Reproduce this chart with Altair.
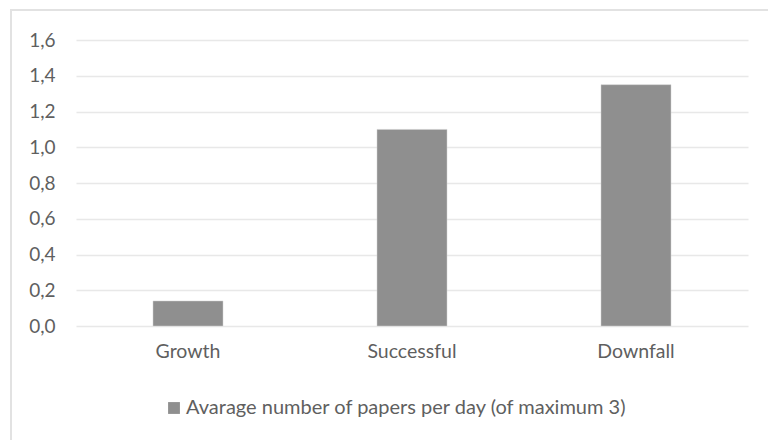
import altair as alt
import pandas as pd

phases = ["Growth", "Successful", "Downfall"]
papers_per_day = [0.14, 1.10, 1.35]
series_name = "Avarage number of papers per day (of maximum 3)"

df = pd.DataFrame({"phase": phases, "value": papers_per_day, "series": [series_name] * 3})

FONT = "Lato"
TEXT = "#5f5f5f"

bars = alt.Chart(df).mark_bar(color="#8f8f8f", stroke="#d0d0d0", strokeWidth=0.5).encode(
    x=alt.X(
        "phase:N",
        sort=phases,
        title=None,
        scale=alt.Scale(paddingInner=0.6875, paddingOuter=0.34375),
        axis=alt.Axis(
            labelAngle=0, domain=False, ticks=False, labelPadding=16,
            labelFont=FONT, labelFontSize=19.5, labelColor=TEXT,
        ),
    ),
    y=alt.Y(
        "value:Q",
        title=None,
        scale=alt.Scale(domain=[0, 1.6]),
        axis=alt.Axis(
            values=[0, 0.2, 0.4, 0.6, 0.8, 1.0, 1.2, 1.4, 1.6],
            labelExpr="replace(format(datum.value, '.1f'), '.', ',')",
            domain=False, ticks=False, labelPadding=21,
            grid=True, gridColor="#e8e8e8", gridWidth=1.5,
            labelFont=FONT, labelFontSize=19, labelColor=TEXT,
        ),
    ),
    color=alt.Color(
        "series:N",
        scale=alt.Scale(range=["#8f8f8f"]),
        legend=alt.Legend(
            title=None, orient="none", legendX=88, legendY=358,
            symbolType="square", symbolSize=140, symbolStrokeWidth=0,
            labelFont=FONT, labelFontSize=20, labelColor=TEXT, labelOffset=2,
            labelLimit=0,
        ),
    ),
)

# light frame around the whole chart
frame = alt.Chart(df).mark_rect(filled=False, stroke="#e2e2e2", strokeWidth=2).encode(
    x=alt.value(-65), x2=alt.value(760), y=alt.value(-30), y2=alt.value(460)
)

chart = (
    alt.layer(frame, bars)
    .properties(
        width=672, height=286,
        autosize=alt.AutoSizeParams(type="none"),
        padding={"left": 76, "top": 40, "right": 20, "bottom": 114},
        background="white",
    )
    .configure_view(stroke=None)
)

chart.save("out.html", embed_options={"renderer": "svg", "actions": False})
